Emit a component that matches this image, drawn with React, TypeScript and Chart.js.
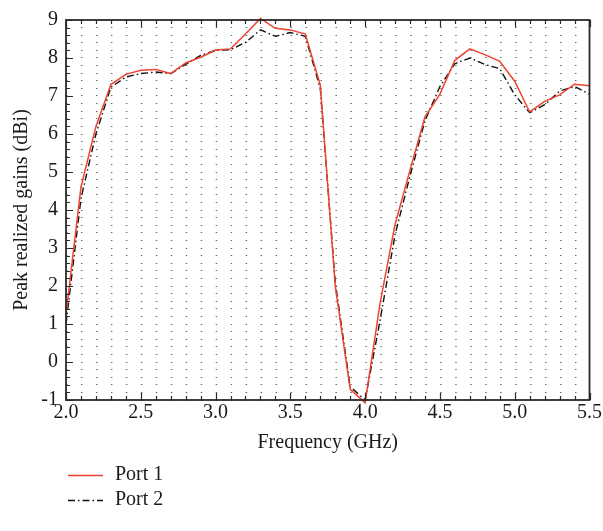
import React, { useEffect, useRef } from "react";
import { Chart, registerables } from "chart.js";

Chart.register(...registerables);

// ---- data ----
const frequencies = [
  2.0, 2.1, 2.2, 2.3, 2.4, 2.5, 2.6, 2.7, 2.8, 2.9,
  3.0, 3.1, 3.2, 3.3, 3.4, 3.5, 3.6, 3.7, 3.8, 3.9,
  4.0, 4.1, 4.2, 4.3, 4.4, 4.5, 4.6, 4.7, 4.8, 4.9,
  5.0, 5.1, 5.2, 5.3, 5.4, 5.5, 5.6,
];
const port1 = [
  1.25, 4.6, 6.2, 7.3, 7.57, 7.68, 7.7, 7.59, 7.87, 8.02,
  8.21, 8.24, 8.63, 9.04, 8.78, 8.74, 8.63, 7.29, 2.0, -0.72,
  -1.07, 1.55, 3.62, 5.05, 6.45, 7.05, 7.94, 8.24, 8.09, 7.91,
  7.39, 6.58, 6.86, 7.03, 7.31, 7.27, 7.5,
];
const port2 = [
  1.0, 4.3, 6.0, 7.23, 7.5, 7.59, 7.63, 7.59, 7.83, 8.07,
  8.2, 8.22, 8.41, 8.74, 8.57, 8.67, 8.57, 7.2, 2.1, -0.65,
  -1.0, 1.1, 3.35, 4.9, 6.35, 7.25, 7.85, 8.0, 7.83, 7.72,
  7.03, 6.56, 6.77, 7.13, 7.25, 7.05, 6.9,
];
const seriesLabels = ["Port 1", "Port 2"];
const xTickLabels = ["2.0", "2.5", "3.0", "3.5", "4.0", "4.5", "5.0", "5.5"];
const yTickLabels = ["-1", "0", "1", "2", "3", "4", "5", "6", "7", "8", "9"];
const xTitle = "Frequency (GHz)";
const yTitle = "Peak realized gains (dBi)";

const FONT = "'Liberation Serif', 'DejaVu Serif', serif";
const TEXT = "#1a1a1a";

const near = (v: number, step: number) =>
  Math.abs(v / step - Math.round(v / step)) < 1e-6;

const frameTicksPlugin = {
  id: "frameTicks",
  afterDatasetsDraw(chart: any) {
    const { ctx, chartArea: a, scales } = chart;
    const xs = scales.x;
    const ys = scales.y;
    ctx.save();
    ctx.strokeStyle = "#2a2a2a";
    ctx.lineWidth = 1.2;
    ctx.beginPath();
    xs.ticks.forEach((t: any) => {
      const px = Math.round(xs.getPixelForValue(t.value)) + 0.5;
      const len = near(t.value, 0.5) ? 7 : 4;
      ctx.moveTo(px, a.bottom);
      ctx.lineTo(px, a.bottom - len);
      ctx.moveTo(px, a.top);
      ctx.lineTo(px, a.top + len);
    });
    ys.ticks.forEach((t: any) => {
      const py = Math.round(ys.getPixelForValue(t.value)) + 0.5;
      const len = near(t.value, 1) ? 7 : 4;
      ctx.moveTo(a.left, py);
      ctx.lineTo(a.left + len, py);
    });
    ctx.stroke();
    ctx.lineWidth = 1.8;
    ctx.strokeRect(a.left, a.top, a.right - a.left, a.bottom - a.top);
    ctx.restore();
  },
};

const legendPlugin = {
  id: "stackLegend",
  afterDraw(chart: any) {
    const { ctx, chartArea: a } = chart;
    ctx.save();
    ctx.font = `20px ${FONT}`;
    ctx.textBaseline = "middle";
    ctx.textAlign = "left";
    chart.data.datasets.forEach((ds: any, i: number) => {
      const y = a.bottom + 75 + i * 25;
      const x0 = a.left + 2;
      ctx.strokeStyle = ds.borderColor;
      ctx.lineWidth = ds.borderWidth;
      ctx.setLineDash(ds.borderDash || []);
      ctx.beginPath();
      ctx.moveTo(x0, y + 0.5);
      ctx.lineTo(x0 + 35, y + 0.5);
      ctx.stroke();
      ctx.setLineDash([]);
      ctx.fillStyle = TEXT;
      ctx.fillText(ds.label, x0 + 47, y);
    });
    ctx.restore();
  },
};

export default function App() {
  const ref = useRef<HTMLCanvasElement | null>(null);

  useEffect(() => {
    if (!ref.current) return;
    Chart.defaults.font.family = FONT;
    Chart.defaults.color = TEXT;
    const chart = new Chart(ref.current, {
      type: "line",
      data: {
        datasets: [
          {
            label: seriesLabels[0],
            data: frequencies.map((f, i) => ({ x: f, y: port1[i] })),
            borderColor: "#ee4330",
            borderWidth: 1.5,
            pointRadius: 0,
            tension: 0,
            clip: false as any,
          },
          {
            label: seriesLabels[1],
            data: frequencies.map((f, i) => ({ x: f, y: port2[i] })),
            borderColor: "#111111",
            borderWidth: 1.4,
            borderDash: [7, 3, 1.5, 3],
            pointRadius: 0,
            tension: 0,
            clip: false as any,
          },
        ],
      },
      options: {
        responsive: false,
        maintainAspectRatio: false,
        animation: false,
        layout: { padding: { left: 0, right: 12, top: 14, bottom: 71 } },
        plugins: {
          legend: { display: false },
          tooltip: { enabled: false },
        },
        scales: {
          x: {
            type: "linear",
            min: 2,
            max: 5.5,
            afterFit: (s: any) => {
              s.height = 60;
            },
            ticks: {
              stepSize: 0.1,
              padding: 1,
              autoSkip: false,
              maxRotation: 0,
              font: { size: 20 },
              color: TEXT,
              callback: (v: any) => {
                const n = Number(v);
                if (!near(n, 0.5)) return "";
                const s = n.toFixed(1);
                return xTickLabels.includes(s) ? s : "";
              },
            },
            grid: {
              drawOnChartArea: false,
              drawTicks: false,
            },
            border: { display: false },
            title: {
              display: true,
              text: xTitle,
              font: { size: 20 },
              color: TEXT,
              padding: { top: 0, bottom: 5 },
            },
          },
          y: {
            type: "linear",
            min: -1,
            max: 9,
            afterFit: (s: any) => {
              s.width = 66;
            },
            ticks: {
              stepSize: 0.2,
              padding: 8,
              autoSkip: false,
              font: { size: 20 },
              color: TEXT,
              callback: (v: any) => {
                const n = Number(v);
                if (!near(n, 1)) return "";
                const s = String(Math.round(n));
                return yTickLabels.includes(s) ? s : "";
              },
            },
            grid: {
              color: "rgba(0,0,0,0.6)",
              lineWidth: 1,
              drawTicks: false,
            },
            border: { display: false, dash: [1.5, 13.47] },
            title: {
              display: true,
              text: yTitle,
              font: { size: 20 },
              color: TEXT,
              padding: { top: 10, bottom: 0 },
            },
          },
        },
      },
      plugins: [frameTicksPlugin, legendPlugin],
    });
    return () => chart.destroy();
  }, []);

  return (
    <div style={{ position: "absolute", left: 0, top: 0, width: 603, height: 531 }}>
      <canvas ref={ref} width={603} height={531} style={{ width: 603, height: 531 }} />
    </div>
  );
}
